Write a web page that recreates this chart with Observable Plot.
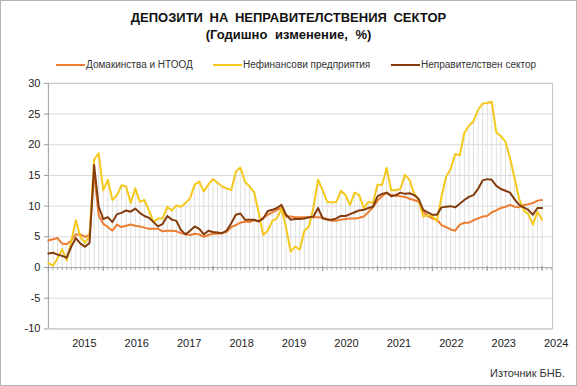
<!DOCTYPE html>
<html>
<head>
<meta charset="utf-8">
<script src="https://cdn.jsdelivr.net/npm/d3@7"></script>
<script src="https://cdn.jsdelivr.net/npm/@observablehq/plot@0.6"></script>
<style>
  html, body { margin: 0; padding: 0; background: #fff; }
  #wrap { position: relative; width: 577px; height: 386px; box-sizing: border-box;
          border: 1px solid #b4b4b4; overflow: hidden;
          font-family: "Liberation Sans", Arial, sans-serif; color: #111; }
  #chart { position: absolute; left: -1px; top: -1px; }
  .title { position: absolute; left: 0; right: 0; top: 9px; text-align: center;
           font-weight: bold; font-size: 13px; word-spacing: 3px; }
  .sub { position: absolute; left: 0; right: 0; top: 26px; text-align: center;
         font-weight: bold; font-size: 13px; word-spacing: 4px; }
  .leg { position: absolute; top: 58px; font-size: 10px; color: #333; display: flex; align-items: center; white-space: nowrap; }
  .leg i { display: inline-block; width: 29px; height: 2px; margin-right: 1px; }
  .src { position: absolute; top: 366px; left: 489px; font-size: 11px; color: #333; }
</style>
</head>
<body>
<div id="wrap">
  <div class="title">ДЕПОЗИТИ НА НЕПРАВИТЕЛСТВЕНИЯ СЕКТОР</div>
  <div class="sub">(Годишно изменение, %)</div>
  <div id="legend"></div>
  <div id="chart"></div>
  <div class="src">Източник БНБ.</div>
</div>
<script>
// Monthly data, Jan 2015 – Jan 2024 (annual change, %)
const households = [
  4.4, 4.6, 4.8, 3.9, 3.8, 4.4, 5.4, 5.4, 5.0, 5.3, 15.5, 8.5,
  7.1, 6.6, 6.0, 7.0, 6.6, 6.8, 7.0, 6.8, 6.7, 6.5, 6.3, 6.3,
  6.3, 5.9, 6.0, 6.0, 5.9, 5.6, 5.4, 5.3, 5.5, 5.4, 5.0, 5.3,
  5.5, 5.5, 5.6, 5.8, 6.6, 6.9, 7.3, 7.5, 7.4, 7.7, 7.6, 8.1,
  8.6, 9.0, 9.4, 9.7, 8.3, 8.3, 8.2, 8.2, 8.2, 8.2, 8.2, 8.2,
  8.1, 7.9, 7.6, 7.6, 7.8, 7.9, 8.0, 8.0, 8.1, 8.3, 9.0, 9.8,
  10.9, 11.6, 12.2, 11.8, 11.7, 11.6, 11.5, 11.2, 11.0, 10.7, 9.1, 8.4,
  8.0, 7.8, 6.9, 6.6, 6.2, 6.0, 7.0, 7.3, 7.3, 7.7, 8.0, 8.3,
  8.4, 9.0, 9.3, 9.7, 9.9, 10.2, 9.9, 9.8, 10.2, 10.3, 10.5, 10.9,
  11.0
];
const corporations = [
  0.7, 0.3, 1.5, 3.0, 1.2, 4.3, 7.7, 5.0, 4.0, 5.2, 17.6, 18.6,
  12.6, 14.3, 11.0, 11.8, 13.4, 13.2, 10.5, 12.9, 10.7, 11.0, 9.3, 7.4,
  8.0, 8.0, 9.9, 9.3, 10.1, 9.9, 10.5, 11.3, 13.5, 14.0, 12.4, 13.5,
  14.4, 13.8, 13.2, 12.9, 12.6, 15.6, 16.3, 14.0, 13.2, 12.3, 9.0, 5.3,
  6.0, 7.6, 8.0, 9.6, 6.5, 2.6, 3.4, 2.9, 6.0, 6.7, 9.9, 14.3,
  12.6, 10.7, 10.6, 10.7, 12.5, 11.8, 10.2, 12.2, 11.8, 9.7, 10.7, 10.5,
  13.5, 13.5, 16.2, 12.6, 12.6, 12.8, 15.1, 14.3, 12.1, 11.0, 8.3, 8.5,
  8.3, 7.6, 11.5, 14.8, 16.0, 18.5, 18.3, 21.9, 23.1, 23.8, 25.7, 26.7,
  26.8, 27.0, 22.0, 21.4, 20.5, 17.8, 14.5, 11.2, 9.3, 8.7, 7.0, 9.1,
  7.8
];
const nonGovSector = [
  2.3, 2.4, 2.1, 1.9, 1.6, 3.4, 4.8, 3.9, 3.4, 4.0, 16.7, 9.9,
  7.9, 8.2, 7.4, 8.7, 8.9, 9.3, 9.1, 9.6, 8.9, 8.4, 8.1, 7.4,
  6.7, 7.1, 8.4, 7.8, 7.6, 6.1, 5.4, 6.0, 6.7, 6.3, 5.4, 6.0,
  5.8, 5.7, 5.6, 6.0, 7.2, 8.6, 8.8, 7.8, 7.8, 7.8, 7.5, 8.0,
  9.2, 9.4, 9.7, 10.2, 8.6, 7.8, 7.9, 7.9, 8.0, 8.2, 8.3, 9.7,
  8.0, 7.8, 7.8, 8.0, 8.4, 8.4, 8.7, 9.0, 9.3, 9.4, 9.7, 9.9,
  11.6, 12.0, 12.2, 11.6, 11.8, 12.2, 12.0, 12.1, 11.8, 11.2, 9.4, 9.0,
  8.6, 8.6, 9.8, 9.9, 10.0, 9.8, 10.4, 11.0, 11.5, 11.8, 12.8, 14.2,
  14.4, 14.3, 13.3, 12.8, 12.5, 12.2, 11.1, 10.2, 9.8, 9.4, 8.6, 9.7,
  9.7
];
const seriesNames = ["Домакинства и НТООД", "Нефинансови предприятия", "Неправителствен сектор"];
const seriesColors = ["#ED7D31", "#F5C81C", "#843C0C"];
const yearLabels = ["2015", "2016", "2017", "2018", "2019", "2020", "2021", "2022", "2023", "2024"];
const yTicks = [-10, -5, 0, 5, 10, 15, 20, 25, 30];

// Build long table
const seriesValues = [households, corporations, nonGovSector];
const rows = [];
seriesValues.forEach((vals, s) => vals.forEach((v, i) => rows.push({i, v, s: seriesNames[s]})));
const months = d3.range(households.length);
const maxAt = months.map(i => ({i, top: Math.max(households[i], corporations[i], nonGovSector[i])}));
const tickIdx = d3.range(0, 111);

// Legend
const legend = document.getElementById("legend");
const legLeft = [55, 212, 390];
seriesNames.forEach((n, k) => {
  const d = document.createElement("div");
  d.className = "leg";
  d.style.left = legLeft[k] + "px";
  d.innerHTML = `<i style="background:${seriesColors[k]}"></i><span>${n}</span>`;
  legend.appendChild(d);
});

// Year labels layout (evenly spread as in the source)
const labStart = 7.86, labStep = (111.1 - 7.86) / 9;

const chart = Plot.plot({
  width: 577,
  height: 386,
  marginTop: 83,
  marginBottom: 57,
  marginLeft: 48,
  marginRight: 24,
  style: {fontFamily: "'Liberation Sans', Arial, sans-serif", fontSize: "11px", color: "#222", background: "transparent", overflow: "visible"},
  x: {domain: [0, 110.3], axis: null},
  y: {domain: [-10, 30], axis: null},
  color: {domain: seriesNames, range: seriesColors},
  marks: [
    Plot.gridY(yTicks, {stroke: "#d9d9d9", strokeOpacity: 1}),
    Plot.ruleX(maxAt, {x: "i", y1: 0, y2: "top", stroke: "#dedede", strokeWidth: 1}),
    Plot.frame({stroke: "#c4c4c4"}),
    Plot.ruleX([0], {stroke: "#a8a8a8"}),
    Plot.ruleY([0], {stroke: "#a8a8a8"}),
    Plot.ruleX(tickIdx, {x: d => d, y1: 0, y2: 0, insetBottom: -3, stroke: "#a8a8a8"}),
    Plot.ruleX(tickIdx.filter(d => d % 12 === 0), {x: d => d, y1: 0, y2: 0, insetBottom: -4, insetTop: -1, stroke: "#999"}),
    Plot.axisY(yTicks, {tickSize: 4, tickPadding: 4, label: null, tickFormat: d => String(d), stroke: "#999", fill: "#222"}),
    Plot.lineY(rows, {x: "i", y: "v", z: "s", stroke: "s", strokeWidth: 2, strokeLinejoin: "round"}),
    Plot.text(yearLabels, {x: (d, k) => labStart + k * labStep, frameAnchor: "bottom", dy: 18, text: d => d, fill: "#222", fontSize: 11})
  ]
});
document.getElementById("chart").appendChild(chart);
</script>
</body>
</html>
